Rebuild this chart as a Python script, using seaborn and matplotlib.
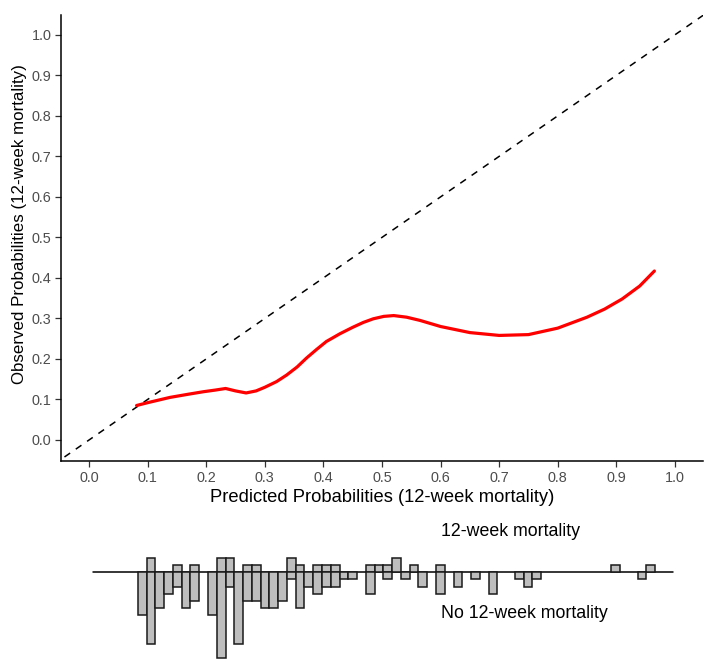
import numpy as np
import pandas as pd
import matplotlib
matplotlib.use("Agg")
import matplotlib.pyplot as plt
import seaborn as sns

# ---------------- data ----------------
# calibration curve (predicted vs observed)
pred_x = [0.081, 0.100, 0.138, 0.170, 0.195, 0.215, 0.233, 0.250, 0.268, 0.285,
          0.300, 0.320, 0.337, 0.355, 0.371, 0.388, 0.405, 0.428, 0.450, 0.468,
          0.485, 0.503, 0.520, 0.542, 0.565, 0.600, 0.650, 0.700, 0.750, 0.800,
          0.850, 0.880, 0.910, 0.940, 0.965]
obs_y = [0.085, 0.092, 0.105, 0.113, 0.119, 0.123, 0.127, 0.121, 0.116, 0.121,
         0.130, 0.144, 0.160, 0.180, 0.202, 0.223, 0.243, 0.262, 0.278, 0.290,
         0.299, 0.305, 0.307, 0.303, 0.295, 0.280, 0.265, 0.258, 0.260, 0.276,
         0.303, 0.323, 0.348, 0.380, 0.417]

# mirrored histogram of predicted probabilities
bin_start = 0.0832
bin_width = 0.01497
events = [0, 2, 0, 0, 1, 0, 1, 0, 0, 2, 2, 0, 1, 1, 0, 0, 0, 2, 1, 0,
          1, 1, 1, 0, 0, 0, 1, 1, 1, 2, 0, 1, 0, 0, 1, 0, 0, 0, 0, 0,
          0, 0, 0, 0, 0, 0, 0, 0, 0, 0, 0, 0, 0, 0, 1, 0, 0, 0, 1]
nonevents = [6, 10, 5, 3, 2, 5, 4, 0, 6, 12, 2, 10, 4, 4, 5, 5, 4, 1, 5, 2,
             3, 2, 2, 1, 1, 0, 3, 0, 1, 0, 1, 0, 2, 0, 3, 0, 2, 0, 1, 0,
             3, 0, 0, 1, 2, 1, 0, 0, 0, 0, 0, 0, 0, 0, 0, 0, 0, 1, 0]

ticks = [0.0, 0.1, 0.2, 0.3, 0.4, 0.5, 0.6, 0.7, 0.8, 0.9, 1.0]
tick_labels = ["0.0", "0.1", "0.2", "0.3", "0.4", "0.5", "0.6", "0.7", "0.8", "0.9", "1.0"]

xlabel = "Predicted Probabilities (12-week mortality)"
ylabel = "Observed Probabilities (12-week mortality)"
label_event = "12-week mortality"
label_nonevent = "No 12-week mortality"

# ---------------- style ----------------
sns.set_style("white")
plt.rcParams["font.family"] = ["Liberation Sans", "DejaVu Sans"]

W, H = 716, 667
fig = plt.figure(figsize=(W / 100, H / 100), dpi=100)

# main calibration axes (pixel box: left 61, right 703, top 15, bottom 461)
ax = fig.add_axes([61 / W, 1 - 461 / H, (703 - 61) / W, (461 - 15) / H])
xlim = (-0.048, 1.048)
ylim = (-0.052, 1.049)
ax.set_xlim(*xlim)
ax.set_ylim(*ylim)

ax.plot([-0.1, 1.1], [-0.1, 1.1], color="black", lw=1.1, ls=(0, (4.5, 4.5)))
df = pd.DataFrame({"pred": pred_x, "obs": obs_y})
sns.lineplot(data=df, x="pred", y="obs", ax=ax, color="#FF0000", lw=2.3,
             sort=False, estimator=None)

ax.set_xticks(ticks)
ax.set_xticklabels(tick_labels)
ax.set_yticks(ticks)
ax.set_yticklabels(tick_labels)
for s in ["top", "right"]:
    ax.spines[s].set_visible(False)
for s in ["left", "bottom"]:
    ax.spines[s].set_color("black")
    ax.spines[s].set_linewidth(1.1)
ax.tick_params(axis="both", which="both", length=4, width=0.9, color="#333333",
               labelcolor="#4D4D4D", labelsize=10.4, pad=3,
               bottom=True, left=True)
ax.set_xlabel(xlabel, fontsize=13.2, color="black", labelpad=3)
ax.set_ylabel(ylabel, fontsize=12.2, color="black")
ax.yaxis.set_label_coords(-34 / (703 - 61), (461 - 224) / (461 - 15))

# histogram axes beneath (baseline at y=572.3 px, 7.17 px per count)
base_px = 572.3
per = 7.17
top_px, bot_px = 510, 667
axh = fig.add_axes([61 / W, 1 - bot_px / H, (703 - 61) / W, (bot_px - top_px) / H])
axh.set_xlim(*xlim)
axh.set_ylim(-(bot_px - base_px) / per, (base_px - top_px) / per)
axh.axis("off")

centers = bin_start + (np.arange(len(events)) + 0.5) * bin_width
ev = np.array(events)
ne = np.array(nonevents)
axh.plot([0.006, 0.996], [0, 0], color="black", lw=1.1, zorder=1)
m = ev > 0
axh.bar(centers[m], ev[m], width=bin_width, bottom=0, color="#BEBEBE",
        edgecolor="#1A1A1A", linewidth=1.1, zorder=2)
m = ne > 0
axh.bar(centers[m], -ne[m], width=bin_width, bottom=0, color="#BEBEBE",
        edgecolor="#1A1A1A", linewidth=1.1, zorder=2)

axh.text(0.600, (base_px - 532) / per, label_event, ha="left", va="center",
         fontsize=12.8, color="black")
axh.text(0.600, -(614 - base_px) / per, label_nonevent, ha="left", va="center",
         fontsize=12.8, color="black")

fig.savefig("out.png", dpi=100)
